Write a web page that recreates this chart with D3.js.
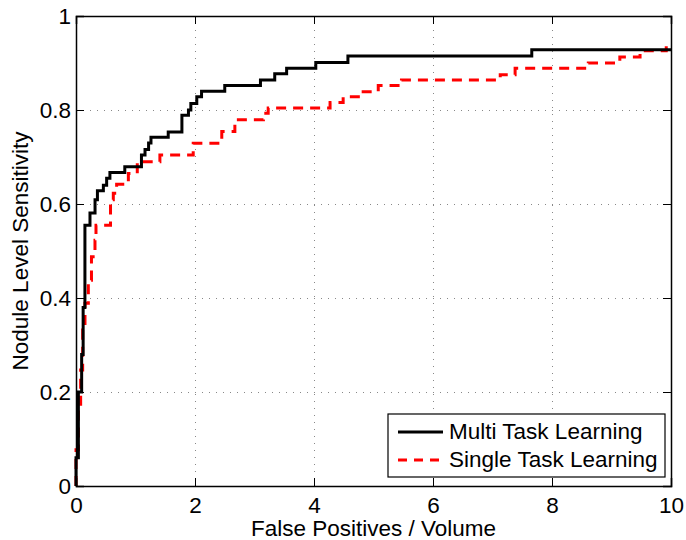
<!DOCTYPE html>
<html>
<head>
<meta charset="utf-8">
<script src="https://cdn.jsdelivr.net/npm/d3@7"></script>
<style>
  body { margin: 0; background: #fff; }
  svg { display: block; font-family: "Liberation Sans", Arial, sans-serif; }
</style>
</head>
<body>
<svg width="686" height="540"></svg>
<script>
// step curves: [false positives per volume, sensitivity]
const multiTask = [
  [0, 0], [0, 0.06], [0.04, 0.2], [0.095, 0.28], [0.12, 0.38], [0.15, 0.40],
  [0.15, 0.555], [0.235, 0.581], [0.32, 0.609], [0.36, 0.628], [0.46, 0.64],
  [0.515, 0.655], [0.57, 0.667], [0.82, 0.679], [1.10, 0.704], [1.16, 0.716],
  [1.22, 0.73], [1.26, 0.742], [1.55, 0.753], [1.78, 0.789], [1.89, 0.80],
  [1.93, 0.814], [2.03, 0.828], [2.11, 0.84], [2.50, 0.852], [3.10, 0.864],
  [3.34, 0.877], [3.54, 0.889], [4.03, 0.901], [4.57, 0.915], [7.66, 0.928],
  [10, 0.928]
]
const singleTask = [
  [0, 0], [0, 0.077], [0.04, 0.162], [0.078, 0.247], [0.112, 0.332],
  [0.151, 0.389], [0.207, 0.438], [0.26, 0.488], [0.319, 0.523], [0.336, 0.555],
  [0.58, 0.609], [0.627, 0.623], [0.683, 0.642], [0.88, 0.665], [1.03, 0.69],
  [1.41, 0.704], [1.97, 0.729], [2.45, 0.754], [2.67, 0.779], [3.15, 0.793],
  [3.23, 0.804], [4.27, 0.816], [4.49, 0.828], [4.80, 0.839], [5.08, 0.852],
  [5.47, 0.864], [7.13, 0.875], [7.38, 0.889], [8.61, 0.90], [9.14, 0.913],
  [9.48, 0.926], [9.92, 0.94]
]
const xTicks = [0, 2, 4, 6, 8, 10]
const yTicks = [0, 0.2, 0.4, 0.6, 0.8, 1]
const seriesNames = ['Multi Task Learning', 'Single Task Learning']

const svg = d3.select('svg')
const pL = 76, pT = 16, pR = 671, pB = 486
const fs = 22.5

const x = d3.scaleLinear().domain([0, 10]).range([pL, pR])
const y = d3.scaleLinear().domain([0, 1]).range([pB, pT])

// dotted grid
const grid = svg.append('g').attr('stroke', '#888').attr('stroke-width', 1)
  .attr('stroke-dasharray', '1,6')
grid.selectAll('.gx').data(xTicks.slice(1, -1)).enter().append('line')
  .attr('x1', d => x(d) + 0.5).attr('x2', d => x(d) + 0.5)
  .attr('y1', pT).attr('y2', pB)
grid.selectAll('.gy').data(yTicks.slice(1, -1)).enter().append('line')
  .attr('y1', d => Math.round(y(d)) + 0.5).attr('y2', d => Math.round(y(d)) + 0.5)
  .attr('x1', pL).attr('x2', pR)

// curves
const line = d3.line().x(d => x(d[0])).y(d => y(d[1])).curve(d3.curveStepAfter)
svg.append('path').datum(singleTask)
  .attr('fill', 'none').attr('stroke', '#ff0000').attr('stroke-width', 3)
  .attr('stroke-dasharray', '10,7').attr('d', line)
svg.append('path').datum(multiTask)
  .attr('fill', 'none').attr('stroke', '#000').attr('stroke-width', 3)
  .attr('d', line)

// axes, ticks inside like matlab
const fmt = d => d === 0 || d === 1 ? String(d) : d3.format('.1f')(d)
svg.append('g').attr('transform', `translate(0,${pB})`)
  .call(d3.axisBottom(x).tickValues(xTicks).tickSize(-8).tickPadding(11).tickFormat(d3.format('d')))
svg.append('g').attr('transform', `translate(0,${pT})`)
  .call(d3.axisTop(x).tickValues(xTicks).tickSize(-8).tickFormat(''))
svg.append('g').attr('transform', `translate(${pL},0)`)
  .call(d3.axisLeft(y).tickValues(yTicks).tickSize(-8).tickPadding(5).tickFormat(fmt))
svg.append('g').attr('transform', `translate(${pR},0)`)
  .call(d3.axisRight(y).tickValues(yTicks).tickSize(-8).tickFormat(''))

svg.selectAll('.domain').attr('stroke', '#000').attr('stroke-width', 1.5)
svg.selectAll('.tick line').attr('stroke', '#000')
svg.selectAll('.tick text').attr('font-size', fs).attr('font-family', '"Liberation Sans", Arial, sans-serif')
  .attr('fill', '#000')

// axis titles
svg.append('text').attr('x', (pL + pR) / 2).attr('y', 536)
  .attr('text-anchor', 'middle').attr('font-size', fs).text('False Positives / Volume')
svg.append('text').attr('transform', `translate(28,${(pT + pB) / 2}) rotate(-90)`)
  .attr('text-anchor', 'middle').attr('font-size', fs).text('Nodule Level Sensitivity')

// legend
const lg = svg.append('g').attr('transform', 'translate(388,414)')
lg.append('rect').attr('width', 277).attr('height', 63)
  .attr('fill', '#fff').attr('stroke', '#000').attr('stroke-width', 1.2)
const rows = lg.selectAll('.row').data(seriesNames).enter().append('g')
  .attr('transform', (d, i) => `translate(0,${18 + i * 28})`)
rows.append('line').attr('x1', 10).attr('x2', 55)
  .attr('stroke', (d, i) => i === 0 ? '#000' : '#ff0000').attr('stroke-width', 3)
  .attr('stroke-dasharray', (d, i) => i === 0 ? null : '9,7')
rows.append('text').attr('x', 61).attr('y', 7).attr('font-size', fs).text(d => d)
</script>
</body>
</html>
